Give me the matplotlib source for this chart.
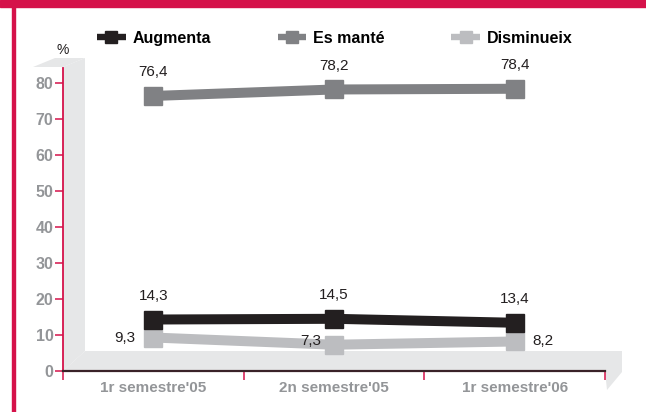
import matplotlib
matplotlib.use("Agg")
import matplotlib.pyplot as plt
from matplotlib.patches import Polygon, Rectangle
from matplotlib.lines import Line2D

# ---- data ----
categories = ["1r semestre'05", "2n semestre'05", "1r semestre'06"]
augmenta = [14.3, 14.5, 13.4]
es_mante = [76.4, 78.2, 78.4]
disminueix = [9.3, 7.3, 8.2]
series_names = ["Augmenta", "Es manté", "Disminueix"]
y_ticks = [0, 10, 20, 30, 40, 50, 60, 70, 80]

# ---- style ----
CRIMSON = "#d5124a"
C_AUG = "#231f20"
C_MAN = "#808184"
C_DIS = "#bcbdc0"
TICK_GRAY = "#939598"
WALL = "#e6e7e8"
W, H = 646, 412
NARROW = ["Liberation Sans Narrow", "Liberation Sans", "DejaVu Sans"]
BOLD = ["Liberation Sans", "DejaVu Sans"]

fig = plt.figure(figsize=(W / 100, H / 100), dpi=100)
fig.patch.set_facecolor("white")

def fx(px):
    return px / W

def fy(py):
    return (H - py) / H

# frame decoration (top band + left border)
fig.patches.append(Rectangle((0, fy(7)), 1, 7 / H, transform=fig.transFigure,
                             color=CRIMSON, zorder=-2))
fig.patches.append(Rectangle((fx(12), 0), 3 / W, 1, transform=fig.transFigure,
                             color=CRIMSON, zorder=-2))

# axes geometry (pixels)
ax_left, ax_right = 63, 605
ax_bottom, ax_top = 371, 68
ymax = (ax_bottom - ax_top) / 3.6
ax = fig.add_axes([fx(ax_left), fy(ax_bottom), (ax_right - ax_left) / W,
                   (ax_bottom - ax_top) / H])
ax.set_facecolor("none")

# 3D wall / floor (decorative, in pixel geometry)
dx, dy = 22, 20
def poly(pts, **kw):
    fig.patches.append(Polygon([(fx(x), fy(y)) for x, y in pts], closed=True,
                               transform=fig.transFigure, facecolor=WALL,
                               edgecolor="none", zorder=-1, **kw))
poly([(33, ax_top - 1), (ax_left, ax_top - 1), (ax_left + dx, ax_top - 10), (55, ax_top - 10)])
poly([(ax_left, ax_top - 1), (ax_left + dx, ax_top - 10), (ax_left + dx, ax_bottom - dy),
      (ax_left, ax_bottom)])
poly([(ax_left, ax_bottom), (ax_left + dx, ax_bottom - dy), (ax_right + 17, ax_bottom - dy),
      (ax_right + 17, ax_bottom + 1), (ax_right + 2, ax_bottom + 19), (ax_right, ax_bottom)])

x = [i + 0.5 for i in range(len(categories))]
ax.set_xlim(0, len(categories))
ax.set_ylim(0, ymax)

series = [(disminueix, C_DIS), (augmenta, C_AUG), (es_mante, C_MAN)]
for vals, col in series:
    ax.plot(x, vals, color=col, lw=7.2, marker="s", ms=13.5, mec=col, mfc=col,
            solid_joinstyle="miter", solid_capstyle="butt", clip_on=False, zorder=3)

lab_kw = dict(textcoords="offset points", fontsize=11, family=NARROW,
              color="#231f20", zorder=5)
for xi, v in zip(x, es_mante):
    ax.annotate(f"{v:.1f}".replace(".", ","), (xi, v), xytext=(0, 12),
                ha="center", va="bottom", **lab_kw)
for xi, v in zip(x, augmenta):
    ax.annotate(f"{v:.1f}".replace(".", ","), (xi, v), xytext=(0, 12),
                ha="center", va="bottom", **lab_kw)
dis_offsets = [(-13, 0, "right"), (-9, 3, "right"), (13, 0, "left")]
for xi, v, (ox, oy, ha) in zip(x, disminueix, dis_offsets):
    ax.annotate(f"{v:.1f}".replace(".", ","), (xi, v), xytext=(ox, oy),
                ha=ha, va="center", **lab_kw)

# axes styling
for s in ["top", "right"]:
    ax.spines[s].set_visible(False)
ax.spines["left"].set_color(CRIMSON)
ax.spines["left"].set_linewidth(1.3)
ax.spines["bottom"].set_color("#3a2228")
ax.spines["bottom"].set_linewidth(1.6)
ax.spines["left"].set_zorder(4)
ax.spines["bottom"].set_zorder(4)

ax.set_yticks(y_ticks)
ax.set_yticklabels([str(t) for t in y_ticks])
ax.tick_params(axis="y", direction="out", length=5.8, width=1.1, color=CRIMSON,
               labelcolor=TICK_GRAY, labelsize=11.5, pad=1)
ax.set_xticks(x)
ax.set_xticklabels(categories)
ax.set_xticks(range(len(categories) + 1), minor=True)
ax.tick_params(axis="x", which="major", length=0, labelcolor=TICK_GRAY,
               labelsize=11, pad=7)
ax.tick_params(axis="x", which="minor", direction="out", length=6.5, width=1.1,
               color=CRIMSON)
for lab in ax.get_xticklabels() + ax.get_yticklabels():
    lab.set_fontweight("bold")
    lab.set_family(BOLD)

ax.text(0, ymax + 3.0, "%", ha="center", va="bottom", fontsize=10,
        family=NARROW, color="#231f20")

# legend
handles = [Line2D([], [], color=c, lw=4.6, marker="s", ms=8.8, mec=c, mfc=c,
                  solid_capstyle="butt")
           for c in (C_AUG, C_MAN, C_DIS)]
leg = fig.legend(handles, series_names, ncol=3, loc="center left",
                 bbox_to_anchor=(fx(97), fy(38.5)), frameon=False,
                 prop=dict(family=BOLD, weight="bold", size=11.5),
                 handlelength=1.8, handletextpad=0.4, columnspacing=4.2,
                 borderaxespad=0, borderpad=0)

fig.savefig("out.png", dpi=100)
